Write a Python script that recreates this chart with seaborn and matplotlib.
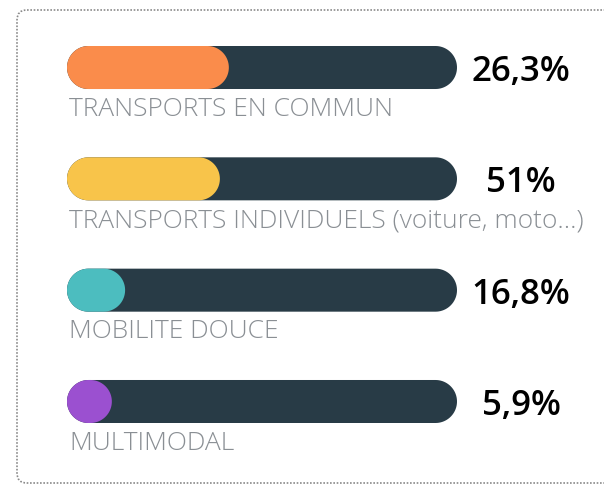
import numpy as np
import pandas as pd
import seaborn as sns
import matplotlib.pyplot as plt
from matplotlib.patches import FancyBboxPatch, Polygon

# Data
categories = ["TRANSPORTS EN COMMUN",
              "TRANSPORTS INDIVIDUELS (voiture, moto...)",
              "MOBILITE DOUCE",
              "MULTIMODAL"]
shares = ["26,3%", "51%", "16,8%", "5,9%"]
# filled length of each gauge as drawn, in % of the track
fill = [41.5, 39.2, 14.9, 11.5]
track = [100, 100, 100, 100]
colors = ["#FA8C4B", "#F8C44A", "#4CBDBF", "#9B50D0"]
track_color = "#283B46"
label_color = "#8A8F94"

sns.set_theme(style="white")
plt.rcParams['font.family'] = ['Open Sans', 'DejaVu Sans']

W, H = 604, 487
fig = plt.figure(figsize=(W / 100, H / 100), dpi=100)

# dotted rounded frame around the card
frame = fig.add_axes([0, 0, 1, 1])
frame.set_xlim(0, W)
frame.set_ylim(H, 0)
frame.axis('off')
frame.add_patch(FancyBboxPatch((17, 10), 600, 473,
                               boxstyle="round,pad=0,rounding_size=10",
                               fill=False, ec='#8a8a8a', lw=1.2, ls=(0, (1, 1))))

# gauges
bar_px = 43
step_px = 111.3
track_px = 390
ax = fig.add_axes([67 / W, (H - 423) / H, track_px / W, 377 / H])
bar_h = bar_px / step_px

df = pd.DataFrame({'cat': categories, 'track': track, 'fill': fill})
sns.barplot(data=df, x='track', y='cat', color=track_color, width=bar_h,
            saturation=1, ax=ax)
sns.barplot(data=df, x='fill', y='cat', hue='cat', palette=colors, width=bar_h,
            saturation=1, dodge=False, legend=False, ax=ax)
ax.set_xlim(0, 100)
ax.set_ylim(3 + bar_h / 2, -bar_h / 2)
ax.axis('off')


def pill(x, y, w, h, rx):
    # rectangle with half-circle ends (ellipse in data units, circle on screen)
    rx = min(rx, w / 2)
    ry = h / 2
    cy = y + ry
    t = np.linspace(-np.pi / 2, np.pi / 2, 40)
    right = np.column_stack([x + w - rx + rx * np.cos(t), cy + ry * np.sin(t)])
    left = np.column_stack([x + rx - rx * np.cos(t), cy - ry * np.sin(t)])
    return np.vstack([right, left])


# round the bar ends
radius = bar_px / 2 * 100 / track_px
for p in list(ax.patches):
    x, y = p.get_xy()
    pts = pill(x, y, p.get_width(), p.get_height(), radius)
    ax.add_patch(Polygon(pts, closed=True, fc=p.get_facecolor(), ec='none'))
    p.remove()

for i, (lab, share) in enumerate(zip(categories, shares)):
    ax.text(0.5, i + bar_h / 2 + 0.07, lab, ha='left', va='top',
            color=label_color, fontsize=19, fontweight='light', clip_on=False)
    ax.text(116.4, i + 0.04, share, ha='center', va='center',
            color='black', fontsize=25, fontweight='semibold', clip_on=False)

fig.savefig('out.png', dpi=100)
